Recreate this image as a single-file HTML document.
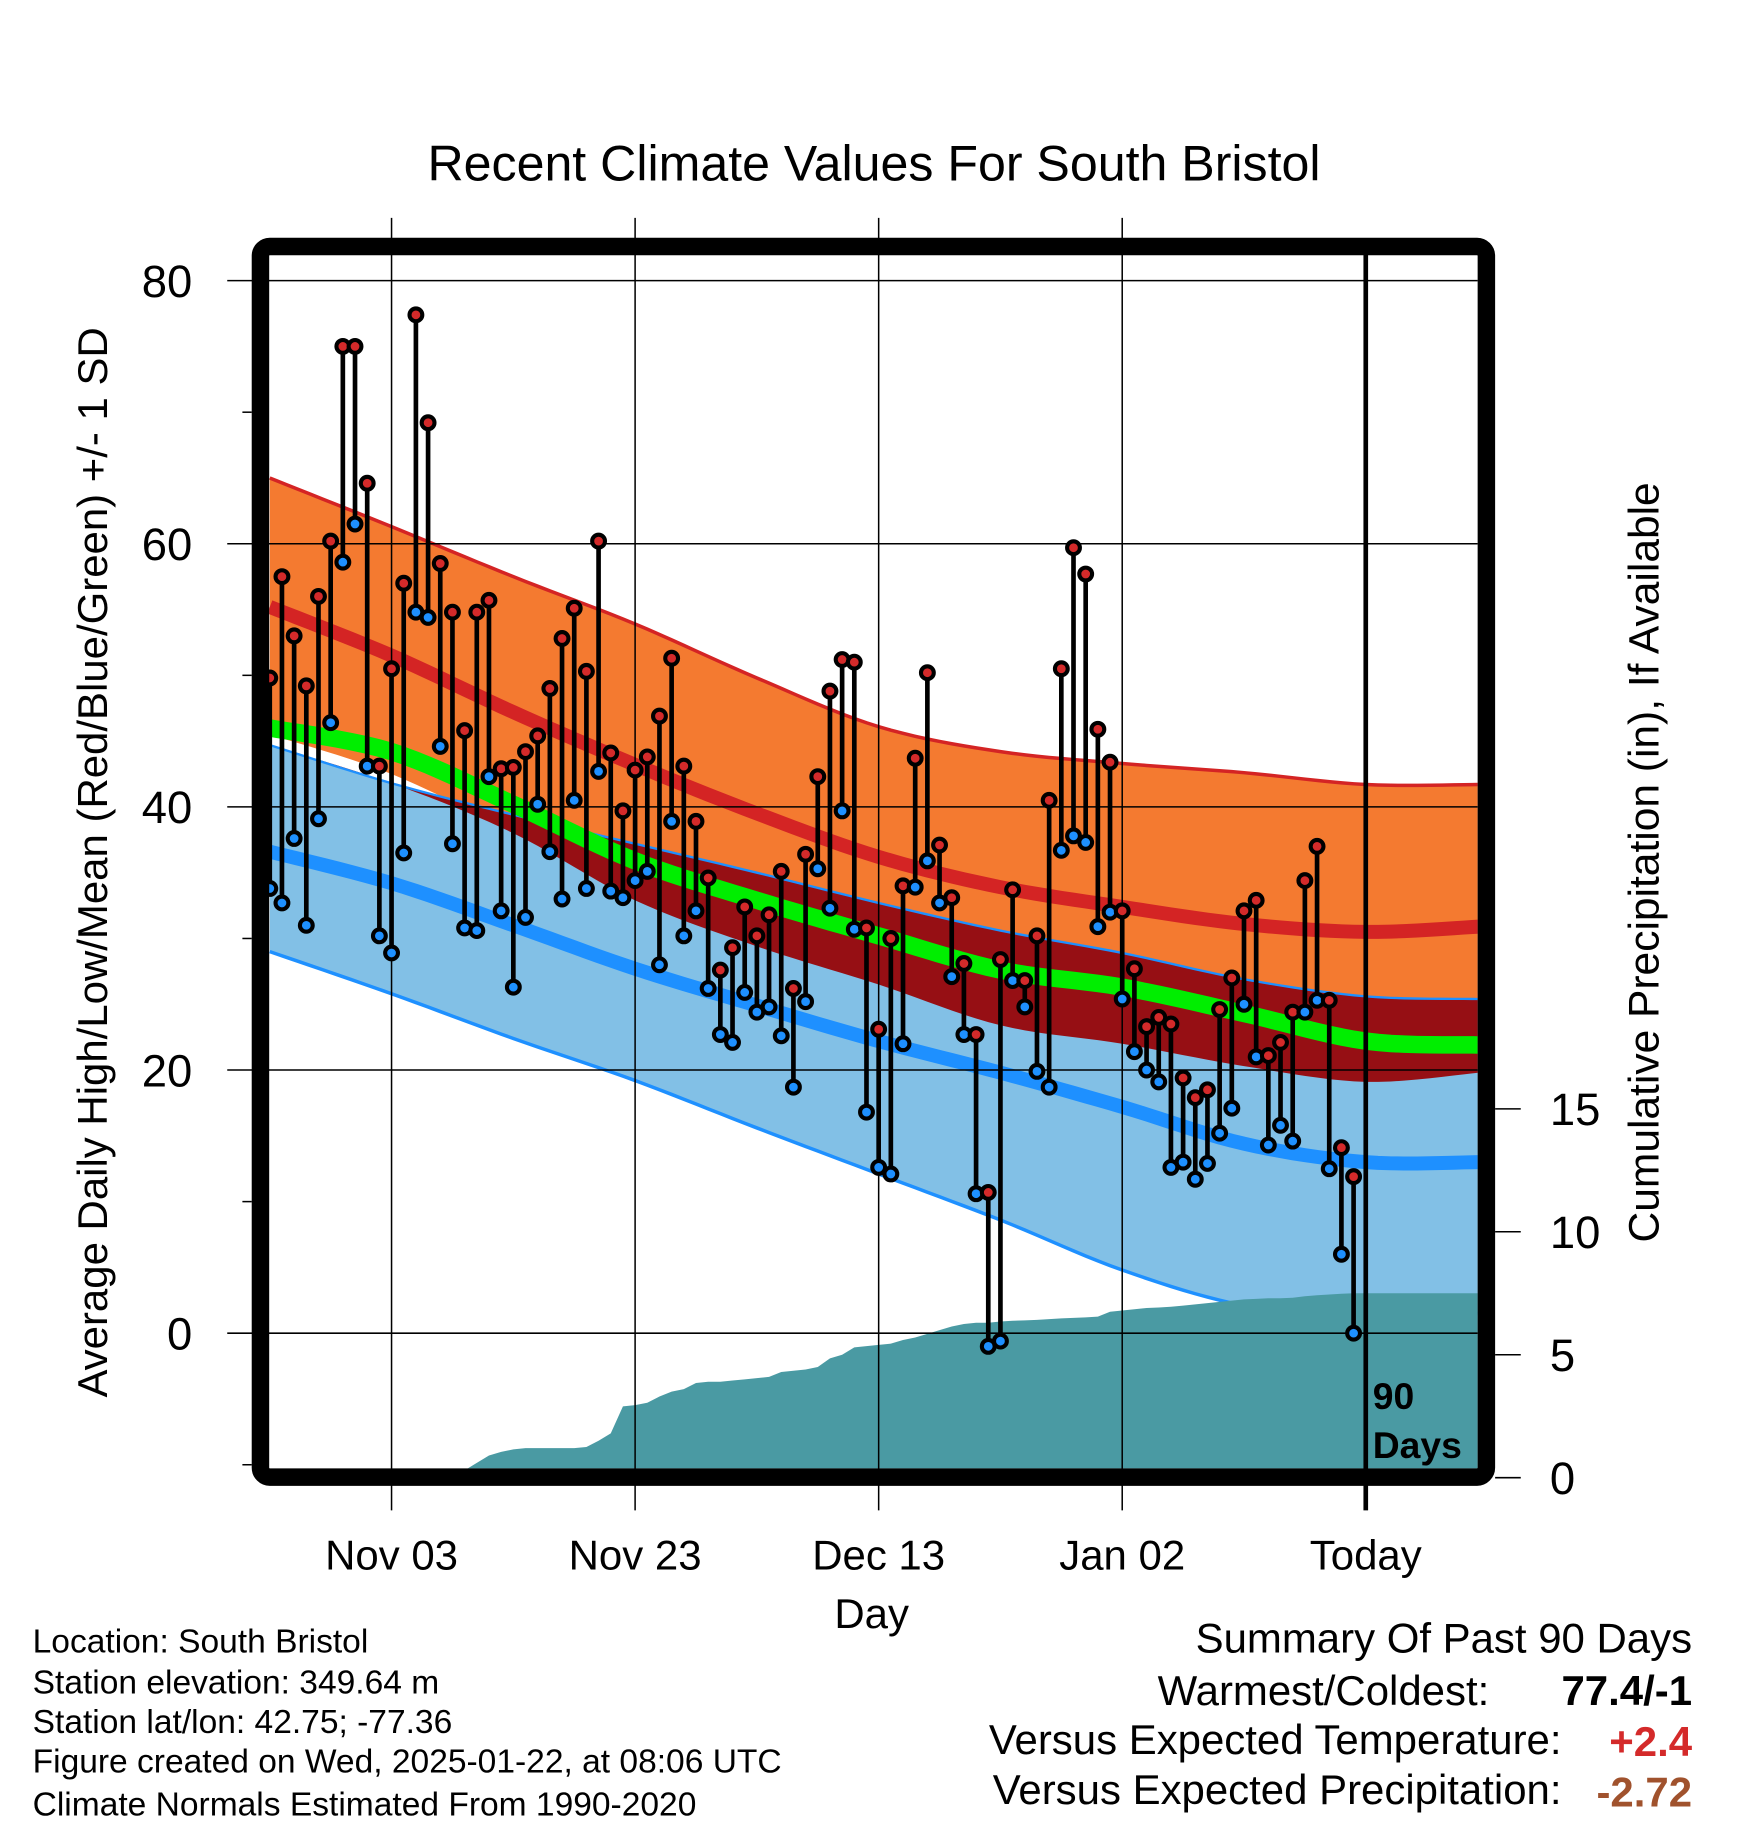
<!DOCTYPE html>
<html><head><meta charset="utf-8"><style>
html,body{margin:0;padding:0;background:#fff;}
svg{display:block;}
text{font-family:"Liberation Sans",Arial,sans-serif;fill:#000;}
</style></head><body>
<svg id="chart" width="1748" height="1828" viewBox="0 0 1500 1568.6" preserveAspectRatio="none" xmlns="http://www.w3.org/2000/svg">
<defs><clipPath id="plotclip"><rect x="231" y="216" width="1037" height="1044"/></clipPath></defs>
<rect width="1500" height="1568.6" fill="#fff"/>
<text x="750" y="155" font-size="43" text-anchor="middle">Recent Climate Values For South Bristol</text>
<g id="plot" clip-path="url(#plotclip)"></g>
<g id="over"></g>
<rect x="223.5" y="211.5" width="1052" height="1056" rx="8" fill="none" stroke="#000" stroke-width="15"/>
<g id="axes"></g>
<text transform="translate(92,740) rotate(-90)" font-size="36" text-anchor="middle">Average Daily High/Low/Mean (Red/Blue/Green) +/- 1 SD</text>
<text transform="translate(1423,740) rotate(-90)" font-size="36.5" text-anchor="middle">Cumulative Precipitation (in), If Available</text>
<text x="748" y="1397" font-size="36" text-anchor="middle">Day</text>
<text x="1178" y="1209" font-size="32" font-weight="bold">90</text>
<text x="1178" y="1251" font-size="32" font-weight="bold">Days</text>
<g font-size="28.8">
<text x="28" y="1418">Location: South Bristol</text>
<text x="28" y="1453">Station elevation: 349.64 m</text>
<text x="28" y="1487">Station lat/lon: 42.75; -77.36</text>
<text x="28" y="1521">Figure created on Wed, 2025-01-22, at 08:06 UTC</text>
<text x="28" y="1558">Climate Normals Estimated From 1990-2020</text>
</g>
<g font-size="36">
<text x="1452" y="1418" text-anchor="end">Summary Of Past 90 Days</text>
<text x="1278" y="1463" text-anchor="end">Warmest/Coldest:</text>
<text x="1452" y="1463" text-anchor="end" font-weight="bold">77.4/-1</text>
<text x="1340" y="1505" text-anchor="end">Versus Expected Temperature:</text>
<text x="1452" y="1507" text-anchor="end" font-weight="bold" style="fill:#d42a2a">+2.4</text>
<text x="1340" y="1548" text-anchor="end">Versus Expected Precipitation:</text>
<text x="1452" y="1550" text-anchor="end" font-weight="bold" style="fill:#a0522d">-2.72</text>
</g>
</svg>
<script>
const highs=[49.8,57.5,53,49.2,56,60.2,75,75,64.6,43.1,50.5,57,77.4,69.2,58.5,54.8,45.8,54.8,55.7,42.9,43,44.2,45.4,49,52.8,55.1,50.3,60.2,44.1,39.7,42.8,43.8,46.9,51.3,43.1,38.9,34.6,27.6,29.3,32.4,30.2,31.8,35.1,26.2,36.4,42.3,48.8,51.2,51,30.8,23.1,30,34,43.7,50.2,37.1,33.1,28.1,22.7,10.7,28.4,33.7,26.8,30.2,40.5,50.5,59.7,57.7,45.9,43.4,32.1,27.7,23.3,24,23.5,19.4,17.9,18.5,24.6,27,32.1,32.9,21.1,22.1,24.4,34.4,37,25.3,14.1,11.9];
const lows=[33.8,32.7,37.6,31,39.1,46.4,58.6,61.5,43.1,30.2,28.9,36.5,54.8,54.4,44.6,37.2,30.8,30.6,42.3,32.1,26.3,31.6,40.2,36.6,33,40.5,33.8,42.7,33.6,33.1,34.4,35.1,28,38.9,30.2,32.1,26.2,22.7,22.1,25.9,24.4,24.8,22.6,18.7,25.2,35.3,32.3,39.7,30.7,16.8,12.6,12.1,22,33.9,35.9,32.7,27.1,22.7,10.6,-1,-0.6,26.8,24.8,19.9,18.7,36.7,37.8,37.3,30.9,32,25.4,21.4,20,19.1,12.6,13,11.7,12.9,15.2,17.1,25,21,14.3,15.8,14.6,24.4,25.3,12.5,6,0];
const precip=[0,0,0,0,0,0,0,0,0,0,0.02,0.05,0.08,0.1,0.12,0.15,0.3,0.6,0.9,1.05,1.15,1.2,1.2,1.2,1.2,1.2,1.25,1.5,1.8,2.9,2.95,3.05,3.3,3.5,3.6,3.85,3.9,3.9,3.95,4.0,4.05,4.1,4.3,4.35,4.4,4.5,4.85,5.0,5.3,5.35,5.4,5.45,5.6,5.7,5.85,6.0,6.15,6.25,6.3,6.3,6.35,6.38,6.4,6.42,6.45,6.48,6.5,6.52,6.55,6.75,6.8,6.85,6.9,6.92,6.95,7.0,7.05,7.1,7.15,7.2,7.25,7.27,7.3,7.3,7.32,7.38,7.42,7.45,7.48,7.5];
const climDays=[0,10,20,30,40,50,60,70,80,90,99.3];
const highTop=[65,61.3,57.5,53.9,49.8,46.1,44.2,43.3,42.6,41.7,41.7];
const highMean=[55.2,51.5,47.2,43.2,39.5,36.2,33.9,32.4,31.1,30.5,30.9];
const highBot=[45.5,42.5,38,32.9,29.4,26.5,23.4,22,20.3,19.1,19.8];
const meanT=[46,44.2,40.2,35.9,32.9,30.2,27.6,26.3,24.3,22.2,21.9];
const lowTop=[44.7,41.8,39.4,37.2,35,32.7,30.6,28.9,26.9,25.6,25.4];
const lowMean=[36.6,34.2,31,27.7,24.9,22.2,19.8,17.2,14.4,13,13];
const lowBot=[29,25.8,22.4,19.2,15.6,12.1,8.6,4.8,2.1,1.2,1.5];
const yTicks=[80,60,40,20,0];
const yMinor=[70,50,30,10,-10];
const xTickLabels=["Nov 03","Nov 23","Dec 13","Jan 02","Today"];
const xTickDays=[10,30,50,70,90];
const pTicks=[0,5,10,15];

const NS="http://www.w3.org/2000/svg";
function X(d){return 231.5+d*10.45;}
function Y(v){return 1144-v*11.29;}
function P(v){return 1268-v*21.1;}
function el(tag,attrs,parent){const e=document.createElementNS(NS,tag);for(const k in attrs)e.setAttribute(k,attrs[k]);parent.appendChild(e);return e;}
const plot=document.getElementById('plot');
const over=document.getElementById('over');
const axes=document.getElementById('axes');
// smooth sampling (Catmull-Rom) of a climatology series
function smooth(arr){
  const out=[];
  const n=climDays.length;
  for(let i=0;i<n-1;i++){
    const p0=[climDays[Math.max(i-1,0)],arr[Math.max(i-1,0)]];
    const p1=[climDays[i],arr[i]],p2=[climDays[i+1],arr[i+1]];
    const p3=[climDays[Math.min(i+2,n-1)],arr[Math.min(i+2,n-1)]];
    for(let s=0;s<10;s++){
      const t=s/10,t2=t*t,t3=t2*t;
      const f=(a,b,c,d)=>0.5*((2*b)+(-a+c)*t+(2*a-5*b+4*c-d)*t2+(-a+3*b-3*c+d)*t3);
      out.push([f(p0[0],p1[0],p2[0],p3[0]),f(p0[1],p1[1],p2[1],p3[1])]);
    }
  }
  out.push([climDays[n-1],arr[n-1]]);
  return out;
}
function pts(arr){return smooth(arr).map(p=>X(p[0])+','+Y(p[1]));}
function band(top,bot,fill,name){
  const p=pts(top).concat(pts(bot).reverse()).join(' ');
  const e=el('polygon',{points:p,fill:fill},plot);
  
  
}
function line(arr,color,w,name){
  const e=el('polyline',{points:pts(arr).join(' '),fill:'none',stroke:color,'stroke-width':w},plot);
  
  
}
band(highTop,highBot,'#f47a30','high-sd-band');
band(lowTop,lowBot,'#82c0e6','low-sd-band');
const ovBot=highBot.map((v,i)=>Math.min(v,lowTop[i]));
band(lowTop,ovBot,'#960f14','overlap-band');
line(highTop,'#d42424',3,'high-plus-sd-line');
line(lowTop,'#1e90ff',2,'low-plus-sd-line');
line(lowBot,'#1e90ff',3,'low-minus-sd-line');
line(highMean,'#d42424',12,'normal-high-line');
line(meanT,'#00ee00',15,'normal-mean-line');
line(lowMean,'#1e90ff',12,'normal-low-line');
// precipitation area
let pp=[X(0)+','+P(0)];
precip.forEach((v,i)=>pp.push(X(i)+','+P(v)));
pp.push(X(100)+','+P(precip[precip.length-1]));
pp.push(X(100)+','+P(0));
const pa=el('polygon',{points:pp.join(' '),fill:'#4a9aa3'},plot);


// grid
yTicks.forEach(v=>{
  const g=el('line',{x1:195,x2:1268,y1:Y(v),y2:Y(v),stroke:'#000','stroke-width':1.3},over);
  
  
  const t=el('text',{x:165,y:Y(v)+14,'font-size':39,'text-anchor':'end'},axes);
  t.textContent=v;
  
  
});
yMinor.forEach(v=>{
  const g=el('line',{x1:208,x2:216,y1:Y(v),y2:Y(v),stroke:'#000','stroke-width':1.3},over);
  
  
});
xTickDays.forEach((d,i)=>{
  const today=i===xTickDays.length-1;
  const g=el('line',{x1:X(d),x2:X(d),y1:today?216:187,y2:1296,stroke:'#000','stroke-width':today?4:1.3},over);
  
  
  const t=el('text',{x:X(d),y:1347,'font-size':36,'text-anchor':'middle'},axes);
  t.textContent=xTickLabels[i];
  
  
});
pTicks.forEach(v=>{
  const g=el('line',{x1:1283,x2:1305,y1:P(v),y2:P(v),stroke:'#000','stroke-width':1.3},axes);
  
  
  const t=el('text',{x:1330,y:P(v)+14,'font-size':39},axes);
  t.textContent=v;
  
  
});
// daily stems and points
highs.forEach((h,i)=>{
  const l=lows[i], x=X(i);
  const s=el('line',{x1:x,x2:x,y1:Y(h),y2:Y(l),stroke:'#000','stroke-width':4},over);
  
  
});
highs.forEach((h,i)=>{
  const x=X(i);
  const b=el('circle',{cx:x,cy:Y(lows[i]),r:5.5,fill:'#1e90ff',stroke:'#000','stroke-width':3.5},over);
  
  
  const r=el('circle',{cx:x,cy:Y(h),r:5.5,fill:'#d42a2a',stroke:'#000','stroke-width':3.5},over);
  
  
});
</script>
</body></html>
